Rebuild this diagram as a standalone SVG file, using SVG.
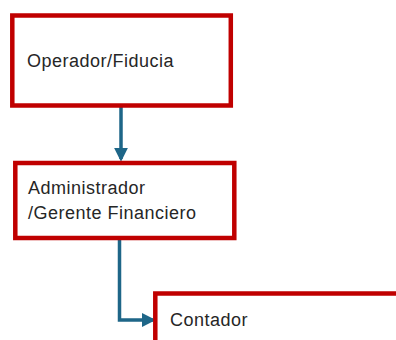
<svg xmlns="http://www.w3.org/2000/svg" width="396" height="340" viewBox="0 0 396 340">
<style>
.box{fill:#fff;stroke:#c00000;stroke-width:4.5}
.t{font-family:"Liberation Sans",Arial,sans-serif;font-size:18px;letter-spacing:0.5px;fill:#262626}
.c{fill:none;stroke:#1e6688;stroke-width:3.5}
</style>
<defs>
<marker id="ah" markerWidth="4" markerHeight="4" refX="3.2" refY="2" orient="auto" markerUnits="strokeWidth">
<path d="M0,0 L4,2 L0,4 Z" fill="#1e6688"/>
</marker>
</defs>
<rect width="396" height="340" fill="#fff"/>
<g id="connectors">
<path class="c" d="M121,105 V159" marker-end="url(#ah)"/>
<path class="c" d="M119.5,238 V320 H153" marker-end="url(#ah)"/>
</g>
<g id="n1">
<rect class="box" x="12.3" y="15.5" width="218.5" height="90"/>
<text class="t" x="27" y="66.5">Operador/Fiducia</text>
</g>
<g id="n2">
<rect class="box" x="15.3" y="163" width="219" height="75"/>
<text class="t" x="28" y="194">Administrador</text>
<text class="t" x="28" y="219">/Gerente Financiero</text>
</g>
<g id="n3">
<rect class="box" x="155.3" y="293.5" width="260" height="80"/>
<text class="t" x="170" y="325.5">Contador</text>
</g>
</svg>
